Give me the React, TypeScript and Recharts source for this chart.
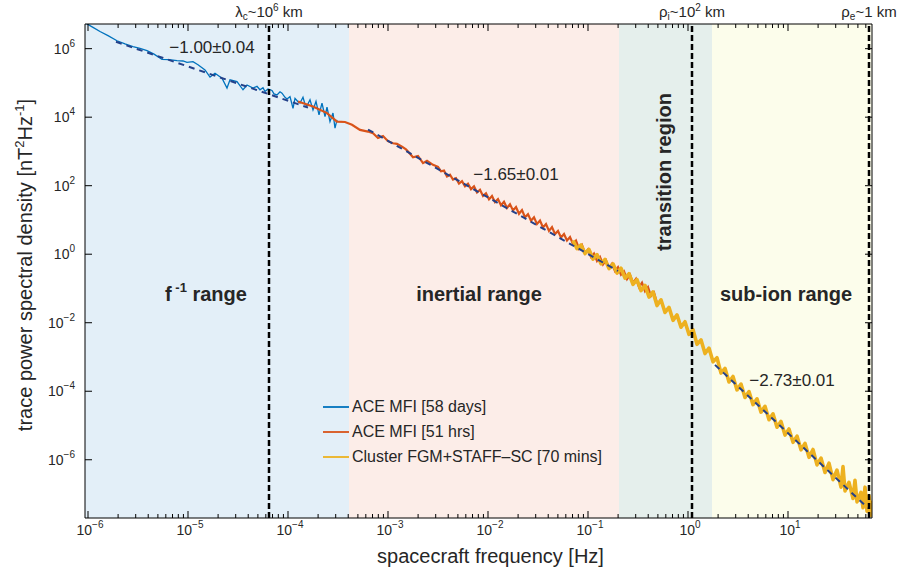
import React from 'react';
import {
  ComposedChart,
  Line,
  XAxis,
  YAxis,
  ReferenceArea,
  ReferenceLine,
  ReferenceDot,
  Legend,
} from 'recharts';

const FONT = '"Liberation Sans", Arial, Helvetica, sans-serif';
const TXT = '#262626';

// all values are [log10 f (Hz), log10 PSD (nT^2 Hz^-1)]
const aceLong: [number, number][] = [
  [-6.02, 6.74], [-5.95, 6.62], [-5.88, 6.5], [-5.8, 6.38], [-5.71, 6.23], [-5.63, 6.14],
  [-5.55, 6.06], [-5.48, 6.01], [-5.41, 5.94], [-5.34, 5.84], [-5.26, 5.69], [-5.19, 5.68],
  [-5.11, 5.65], [-5.05, 5.64], [-5.01, 5.6], [-4.95, 5.62], [-4.9, 5.53], [-4.83, 5.38],
  [-4.78, 5.17], [-4.73, 5.28], [-4.66, 5.14], [-4.61, 4.85], [-4.58, 5.09], [-4.51, 5.04],
  [-4.45, 4.8], [-4.41, 4.94], [-4.35, 4.85], [-4.31, 4.9], [-4.28, 4.8], [-4.25, 4.86],
  [-4.23, 4.75], [-4.2, 4.82], [-4.16, 4.78], [-4.14, 4.68], [-4.11, 4.65], [-4.08, 4.74],
  [-4.06, 4.7], [-4.03, 4.58], [-4.01, 4.53], [-3.98, 4.6], [-3.95, 4.26], [-3.93, 4.55],
  [-3.9, 4.45], [-3.88, 4.41], [-3.85, 4.58], [-3.83, 4.38], [-3.81, 4.33], [-3.78, 4.51],
  [-3.75, 4.21], [-3.72, 4.46], [-3.69, 4.07], [-3.66, 4.41], [-3.63, 4.02], [-3.61, 4.29],
  [-3.58, 3.87], [-3.55, 4.12], [-3.53, 3.68], [-3.51, 3.92],
];

const aceShort: [number, number][] = [
  [-3.9, 4.46], [-3.75, 4.31], [-3.61, 4.12], [-3.51, 3.87], [-3.43, 3.86], [-3.36, 3.78],
  [-3.28, 3.63], [-3.2, 3.58], [-3.15, 3.53], [-3.1, 3.39], [-3.05, 3.45], [-3.0, 3.3],
  [-2.95, 3.24], [-2.91, 3.22], [-2.86, 3.14], [-2.82, 3.06], [-2.8, 3.0], [-2.75, 2.83],
  [-2.7, 2.87], [-2.65, 2.66], [-2.61, 2.73], [-2.55, 2.61], [-2.5, 2.55], [-2.47, 2.42],
  [-2.44, 2.44], [-2.41, 2.27], [-2.38, 2.32], [-2.35, 2.18], [-2.32, 2.22], [-2.29, 2.06],
  [-2.26, 2.13], [-2.23, 1.98], [-2.2, 2.06], [-2.17, 1.9], [-2.14, 1.98], [-2.11, 1.8],
  [-2.08, 1.88], [-2.05, 1.7], [-2.02, 1.78], [-1.99, 1.6], [-1.96, 1.7], [-1.93, 1.52],
  [-1.9, 1.61], [-1.87, 1.43], [-1.84, 1.53], [-1.81, 1.35], [-1.78, 1.46], [-1.75, 1.28],
  [-1.72, 1.38], [-1.69, 1.18], [-1.66, 1.29], [-1.63, 1.08], [-1.6, 1.17], [-1.57, 0.98],
  [-1.54, 1.08], [-1.51, 0.88], [-1.48, 0.98], [-1.45, 0.78], [-1.42, 0.88], [-1.39, 0.68],
  [-1.36, 0.79], [-1.33, 0.59], [-1.3, 0.68], [-1.27, 0.49], [-1.24, 0.59], [-1.21, 0.4],
  [-1.18, 0.5], [-1.15, 0.3], [-1.12, 0.4], [-1.09, 0.16], [-1.06, 0.27], [-1.03, 0.03],
  [-1.0, 0.14], [-0.97, -0.08], [-0.94, 0.02], [-0.91, -0.2], [-0.88, -0.08], [-0.85, -0.3],
  [-0.82, -0.18], [-0.79, -0.4], [-0.76, -0.28], [-0.73, -0.49], [-0.7, -0.38], [-0.67, -0.6],
  [-0.64, -0.5], [-0.61, -0.73], [-0.58, -0.6], [-0.55, -0.84], [-0.52, -0.72], [-0.49, -0.96],
  [-0.46, -0.83], [-0.43, -1.08], [-0.4, -0.96], [-0.37, -1.22], [-0.34, -1.12], [-0.31, -1.42],
  [-0.3, -1.38],
];

const cluster: [number, number][] = [
  [-1.15, 0.4], [-1.11, 0.16], [-1.07, 0.27], [-1.03, 0.02], [-0.99, 0.14], [-0.95, -0.14],
  [-0.91, -0.01], [-0.87, -0.28], [-0.83, -0.15], [-0.79, -0.42], [-0.75, -0.28], [-0.71, -0.55],
  [-0.67, -0.41], [-0.63, -0.7], [-0.59, -0.57], [-0.55, -0.88], [-0.51, -0.74], [-0.47, -1.06],
  [-0.43, -0.91], [-0.39, -1.25], [-0.35, -1.1], [-0.31, -1.5], [-0.27, -1.33], [-0.23, -1.7],
  [-0.19, -1.55], [-0.15, -1.93], [-0.11, -1.77], [-0.07, -2.13], [-0.03, -1.97], [0.01, -2.34],
  [0.05, -2.2], [0.09, -2.63], [0.13, -2.5], [0.17, -2.9], [0.21, -2.74], [0.25, -3.14],
  [0.29, -3.02], [0.33, -3.47], [0.37, -3.33], [0.41, -3.73], [0.45, -3.57], [0.49, -3.96],
  [0.53, -3.79], [0.57, -4.18], [0.61, -4.01], [0.65, -4.39], [0.69, -4.22], [0.73, -4.61],
  [0.77, -4.44], [0.81, -4.83], [0.85, -4.66], [0.89, -5.05], [0.93, -4.88], [0.97, -5.28],
  [1.01, -5.1], [1.05, -5.49], [1.09, -5.31], [1.13, -5.71], [1.17, -5.52], [1.21, -5.93],
  [1.25, -5.7], [1.29, -6.15], [1.33, -5.95], [1.37, -6.37], [1.41, -6.1], [1.45, -6.58],
  [1.49, -6.3], [1.53, -6.8], [1.55, -6.2], [1.57, -6.91], [1.61, -6.66], [1.65, -7.13],
  [1.67, -6.6], [1.69, -7.23], [1.73, -6.95], [1.75, -7.4], [1.77, -6.8], [1.79, -7.5],
  [1.81, -7.05], [1.83, -7.62], [1.84, -7.2],
];

// power-law fits (end points)
const fitLow: [number, number][] = [[-5.72, 6.2], [-3.8, 4.28]];
const fitInertial: [number, number][] = [[-3.2, 3.64], [-0.7, -0.49]];
const fitSubIon: [number, number][] = [[0.27, -3.23], [1.8, -7.41]];

const seriesNames = ['ACE MFI [58 days]', 'ACE MFI [51 hrs]', 'Cluster FGM+STAFF\u2013SC [70 mins]'];
const seriesColors = ['#0072BD', '#D95319', '#EDB120'];
const fitColor = '#24418a';

// ranges: [from, to, fill]
const ranges: [number, number, string][] = [
  [-6.03, -3.39, '#e3eff8'],
  [-3.39, -0.69, '#fcede8'],
  [-0.69, 0.24, '#e5efec'],
  [0.24, 1.84, '#fcfdeb'],
];
const lambdaC = -4.19;
const rhoI = 0.04;
const rhoE = 1.81;

const xDomain: [number, number] = [-6.03, 1.84];
const yDomain: [number, number] = [-7.7, 6.72];
const xMajor = [-6, -5, -4, -3, -2, -1, 0, 1];
const yMajor = [-6, -4, -2, 0, 2, 4, 6];

const xTicks: number[] = [...xMajor];
for (let n = -7; n <= 1; n++) {
  for (let k = 2; k <= 9; k++) {
    const v = n + Math.log10(k);
    if (v > xDomain[0] && v < xDomain[1]) xTicks.push(v);
  }
}

const rows = (pts: [number, number][]) => pts.map(([x, y]) => ({ x, y }));
const isMajor = (v: number) => Math.abs(v - Math.round(v)) < 1e-6;
const expText = (v: number) => (v < 0 ? '\u2212' + Math.abs(v) : String(v));

const BottomTick = (p: any) => {
  const v = p.payload.value;
  const major = isMajor(v);
  return (
    <g>
      <line x1={p.x} y1={p.y} x2={p.x} y2={p.y - (major ? 7 : 4)} stroke="#000" strokeWidth={1} />
      {major && (
        <text x={p.x + 2} y={p.y + 17} textAnchor="middle" fontSize={14} fill={TXT} fontFamily={FONT}>
          10<tspan dy={-7} fontSize={10}>{expText(v)}</tspan>
        </text>
      )}
    </g>
  );
};

const TopTick = (p: any) => {
  const major = isMajor(p.payload.value);
  return <line x1={p.x} y1={p.y} x2={p.x} y2={p.y + (major ? 7 : 4)} stroke="#000" strokeWidth={1} />;
};

const LeftTick = (p: any) => (
  <g>
    <line x1={p.x} y1={p.y} x2={p.x + 7} y2={p.y} stroke="#000" strokeWidth={1} />
    <text x={p.x - 10} y={p.y + 5} textAnchor="end" fontSize={14} fill={TXT} fontFamily={FONT}>
      10<tspan dy={-7} fontSize={10}>{expText(p.payload.value)}</tspan>
    </text>
  </g>
);

const RightTick = (p: any) => (
  <line x1={p.x} y1={p.y} x2={p.x - 7} y2={p.y} stroke="#000" strokeWidth={1} />
);

const topLabel = (main: string, sub: string, rest: string, sup?: string, tail?: string) => (p: any) => {
  const vb = p.viewBox;
  return (
    <text x={vb.x} y={vb.y - 7} textAnchor="middle" fontSize={15} fill={TXT} fontFamily={FONT}>
      {main}
      <tspan dy={3} fontSize={10}>{sub}</tspan>
      <tspan dy={-3}>{rest}</tspan>
      {sup && <tspan dy={-6} fontSize={10}>{sup}</tspan>}
      {tail && <tspan dy={6}>{tail}</tspan>}
    </text>
  );
};

const noteLabel = (node: (x: number, y: number) => React.ReactElement) => (p: any) => {
  const vb = p.viewBox;
  return node(vb.x + (vb.width || 0) / 2, vb.y + (vb.height || 0) / 2);
};

const slopeText = (s: string) => (x: number, y: number) => (
  <text x={x} y={y} textAnchor="middle" fontSize={17} fill={TXT} fontFamily={FONT}>{s}</text>
);

const rangeText = (s: string) => (x: number, y: number) => (
  <text x={x} y={y} textAnchor="middle" fontSize={20} fontWeight="bold" fill={TXT} fontFamily={FONT}>{s}</text>
);

const LegendBox = () => (
  <div style={{ fontFamily: FONT, fontSize: 16, color: TXT, lineHeight: '25px' }}>
    {seriesNames.map((n, i) => (
      <div key={n} style={{ display: 'flex', alignItems: 'center', whiteSpace: 'nowrap' }}>
        <svg width={29} height={4} style={{ display: 'block' }}>
          <line x1={0} y1={2} x2={26} y2={2} stroke={seriesColors[i]} strokeWidth={1.8} />
        </svg>
        {n}
      </div>
    ))}
  </div>
);

export default function App() {
  return (
    <div style={{ position: 'absolute', left: 0, top: 0, width: 898, height: 581, background: '#fff' }}>
      <ComposedChart width={898} height={581} margin={{ top: 0, right: 0, bottom: 0, left: 0 }}>
        <XAxis
          dataKey="x"
          type="number"
          domain={xDomain}
          allowDataOverflow
          ticks={xTicks}
          interval={0}
          height={63}
          tickSize={0}
          tickMargin={0}
          tickLine={false}
          axisLine={{ stroke: '#000' }}
          tick={BottomTick}
          label={(p: any) => {
            const vb = p.viewBox;
            return (
              <text x={vb.x + vb.width / 2 + 12} y={vb.y + 45} textAnchor="middle" fontSize={20} fill={TXT} fontFamily={FONT}>
                spacecraft frequency [Hz]
              </text>
            );
          }}
        />
        <XAxis
          xAxisId="top"
          orientation="top"
          dataKey="x"
          type="number"
          domain={xDomain}
          allowDataOverflow
          ticks={xTicks}
          interval={0}
          height={24}
          tickSize={0}
          tickMargin={0}
          tickLine={false}
          axisLine={{ stroke: '#000' }}
          tick={TopTick}
        />
        <YAxis
          type="number"
          domain={yDomain}
          allowDataOverflow
          ticks={yMajor}
          interval={0}
          width={85}
          tickSize={0}
          tickMargin={0}
          tickLine={false}
          axisLine={{ stroke: '#000' }}
          tick={LeftTick}
          label={(p: any) => {
            const vb = p.viewBox;
            const cx = vb.x + 32;
            const cy = vb.y + vb.height / 2 - 6;
            return (
              <text x={cx} y={cy} transform={`rotate(-90, ${cx}, ${cy})`} textAnchor="middle" fontSize={20} fill={TXT} fontFamily={FONT}>
                trace power spectral density [nT<tspan dy={-8} fontSize={13}>2</tspan>
                <tspan dy={8}>Hz</tspan>
                <tspan dy={-8} fontSize={13}>-1</tspan>
                <tspan dy={8}>]</tspan>
              </text>
            );
          }}
        />
        <YAxis
          yAxisId="right"
          orientation="right"
          type="number"
          domain={yDomain}
          allowDataOverflow
          ticks={yMajor}
          interval={0}
          width={26}
          tickSize={0}
          tickMargin={0}
          tickLine={false}
          axisLine={{ stroke: '#000' }}
          tick={RightTick}
        />

        {ranges.map(([a, b, c]) => (
          <ReferenceArea key={a} x1={a} x2={b} fill={c} fillOpacity={1} stroke="none" ifOverflow="visible" />
        ))}

        <Line data={rows(aceLong)} dataKey="y" stroke={seriesColors[0]} strokeWidth={1.3} dot={false} isAnimationActive={false} legendType="none" />
        <Line data={rows(aceShort)} dataKey="y" stroke={seriesColors[1]} strokeWidth={2.2} dot={false} isAnimationActive={false} legendType="none" />
        <Line data={rows(cluster)} dataKey="y" stroke={seriesColors[2]} strokeWidth={3.6} strokeLinejoin="round" dot={false} isAnimationActive={false} legendType="none" />

        <Line data={rows(fitLow)} dataKey="y" stroke={fitColor} strokeWidth={2} strokeDasharray="6 5" dot={false} isAnimationActive={false} legendType="none" />
        <Line data={rows(fitInertial)} dataKey="y" stroke={fitColor} strokeWidth={2} strokeDasharray="6 5" dot={false} isAnimationActive={false} legendType="none" />
        <Line data={rows(fitSubIon)} dataKey="y" stroke={fitColor} strokeWidth={2} strokeDasharray="6 5" dot={false} isAnimationActive={false} legendType="none" />

        <ReferenceLine x={lambdaC} stroke="#000" strokeWidth={2.5} strokeDasharray="6 3" label={topLabel('\u03bb', 'c', '~10', '6', ' km')} />
        <ReferenceLine x={rhoI} stroke="#000" strokeWidth={2.5} strokeDasharray="6 3" label={topLabel('\u03c1', 'i', '~10', '2', ' km')} />
        <ReferenceLine x={rhoE} stroke="#000" strokeWidth={2.5} strokeDasharray="6 3" label={topLabel('\u03c1', 'e', '~1 km')} />

        <ReferenceDot x={-4.76} y={5.88} r={0} fill="none" stroke="none" ifOverflow="visible" label={noteLabel(slopeText('\u22121.00\u00b10.04'))} />
        <ReferenceDot x={-1.72} y={2.17} r={0} fill="none" stroke="none" ifOverflow="visible" label={noteLabel(slopeText('\u22121.65\u00b10.01'))} />
        <ReferenceDot x={1.04} y={-3.85} r={0} fill="none" stroke="none" ifOverflow="visible" label={noteLabel(slopeText('\u22122.73\u00b10.01'))} />

        <ReferenceDot
          x={-4.82}
          y={-1.37}
          r={0}
          fill="none"
          stroke="none"
          ifOverflow="visible"
          label={noteLabel((x, y) => (
            <text x={x} y={y} textAnchor="middle" fontSize={20} fontWeight="bold" fill={TXT} fontFamily={FONT}>
              f<tspan dy={-9} fontSize={13}> -1</tspan>
              <tspan dy={9}> range</tspan>
            </text>
          ))}
        />
        <ReferenceDot x={-2.09} y={-1.37} r={0} fill="none" stroke="none" ifOverflow="visible" label={noteLabel(rangeText('inertial range'))} />
        <ReferenceDot x={0.98} y={-1.37} r={0} fill="none" stroke="none" ifOverflow="visible" label={noteLabel(rangeText('sub-ion range'))} />
        <ReferenceDot
          x={-0.17}
          y={2.4}
          r={0}
          fill="none"
          stroke="none"
          ifOverflow="visible"
          label={noteLabel((x, y) => (
            <text x={x} y={y} transform={`rotate(-90, ${x}, ${y})`} textAnchor="middle" fontSize={20} fontWeight="bold" fill={TXT} fontFamily={FONT}>
              transition region
            </text>
          ))}
        />

        <Legend
          layout="vertical"
          align="center"
          verticalAlign="middle"
          content={LegendBox}
          wrapperStyle={{ position: 'absolute', left: 323, top: 394, width: 320 }}
        />
      </ComposedChart>
    </div>
  );
}
